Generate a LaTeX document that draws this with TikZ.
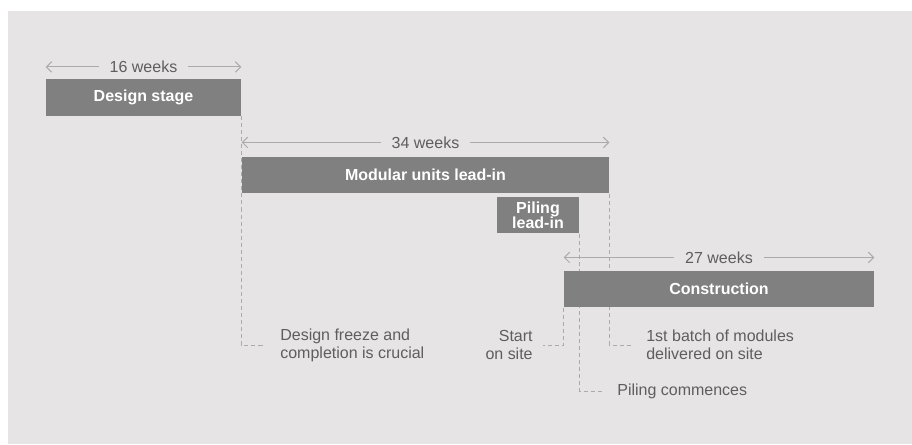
\documentclass[tikz,border=0pt]{standalone}
\usepackage{fontspec}
\setmainfont{Liberation Sans}
\usetikzlibrary{arrows, arrows.meta}
\definecolor{panel}{HTML}{E6E4E5}
\definecolor{barfill}{HTML}{808080}
\definecolor{txtgray}{HTML}{5E5E5E}
\definecolor{rulegray}{HTML}{ABABAB}
\pgfdeclarelayer{panel}
\pgfdeclarelayer{guide}
\pgfsetlayers{panel,guide,main}
\tikzset{
  bar/.style={fill=barfill, text=white, font=\fontsize{9.1}{8.6}\selectfont\bfseries,
    inner sep=0pt, minimum height=0.73cm, align=center},
  span/.style={rulegray, line width=0.6pt,
    {Straight Barb[length=3pt,width=6pt]}-{Straight Barb[length=3pt,width=6pt]}},
  weeks/.style={fill=panel, text=txtgray, font=\fontsize{9.1}{10.3}\selectfont,
    inner xsep=0.22cm, inner ysep=1pt},
  guide/.style={rulegray, line width=0.55pt, dash pattern=on 2.3pt off 1.7pt},
  note/.style={text=txtgray, font=\fontsize{9.1}{10.3}\selectfont, inner sep=0pt},
}
\begin{document}
\begin{tikzpicture}
\useasboundingbox (0,0) rectangle (18.24,8.88);
\begin{pgfonlayer}{panel}
\fill[panel] (0.16,0) rectangle (18.24,8.66);
\end{pgfonlayer}
% bars
\node[bar, minimum width=3.9cm] (design) at (2.87,6.93) {Design stage};
\node[bar, minimum width=7.34cm] (modular) at (8.51,5.38) {Modular units lead-in};
\node[bar, minimum width=1.64cm] (piling) at (10.76,4.58) {Piling\\lead-in};
\node[bar, minimum width=6.2cm] (constr) at (14.38,3.1) {Construction};
% durations
\draw[span] ([yshift=0.24cm]design.north west) -- ([yshift=0.24cm]design.north east)
  node[weeks, midway] (w16) {16 weeks};
\draw[span] ([yshift=0.28cm]modular.north west) -- ([yshift=0.28cm]modular.north east)
  node[weeks, midway] (w34) {34 weeks};
\draw[span] ([yshift=0.26cm]constr.north west) -- ([yshift=0.26cm]constr.north east)
  node[weeks, midway] (w27) {27 weeks};
% milestones
\node[note, anchor=west, align=left] (freeze) at (5.6,1.98) {Design freeze and\\completion is crucial};
\node[note, anchor=east, align=right] (start) at (10.66,1.98) {Start\\on site};
\node[note, anchor=west, align=left] (batch) at (12.92,1.98) {1st batch of modules\\delivered on site};
\node[note, anchor=west] (piles) at (12.34,1.06) {Piling commences};
\begin{pgfonlayer}{guide}
\draw[guide] (design.south east) |- ([xshift=-0.3cm]freeze.west);
\draw[guide] (modular.south east) |- ([xshift=-0.28cm]batch.west);
\draw[guide] (piling.south east) |- ([xshift=-0.28cm]piles.west);
\draw[guide] (constr.south west) |- ([xshift=0.2cm]start.east);
\end{pgfonlayer}
\end{tikzpicture}
\end{document}
